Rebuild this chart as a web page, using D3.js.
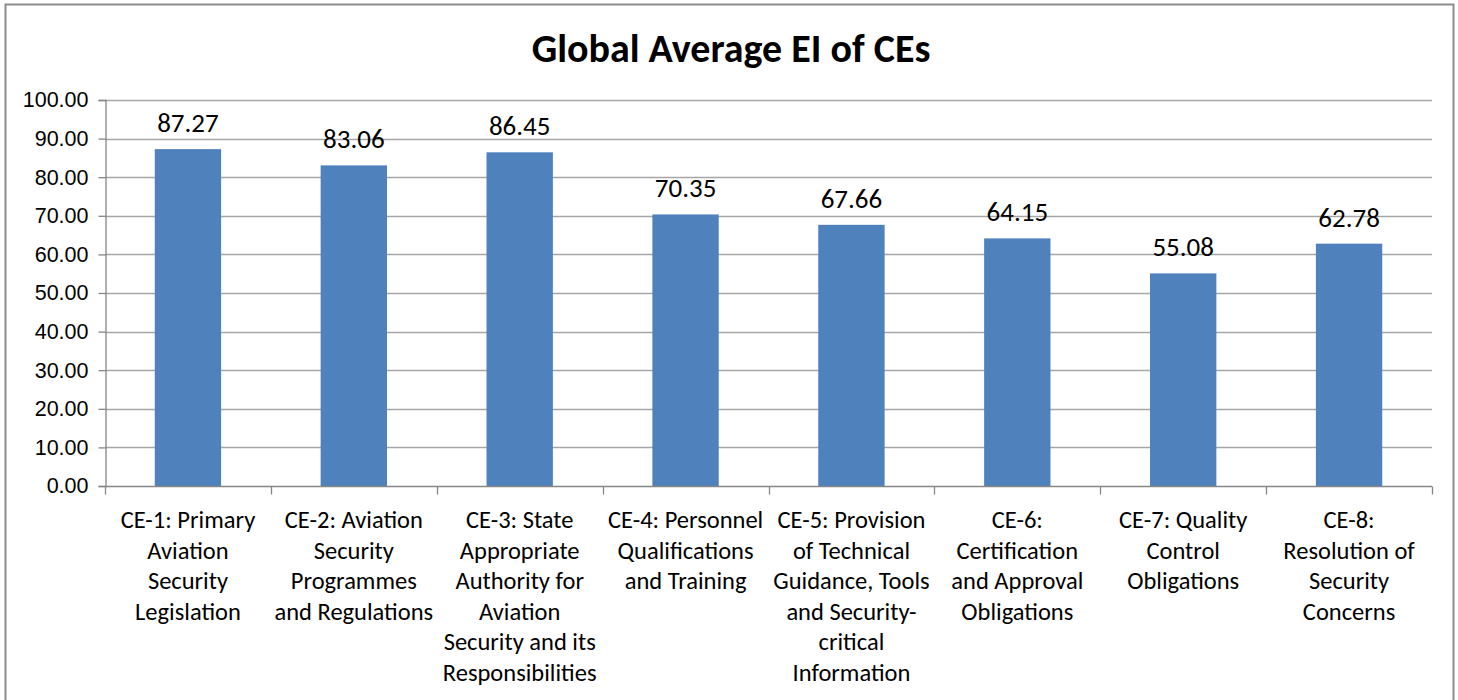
<!DOCTYPE html>
<html>
<head>
<meta charset="utf-8">
<script src="https://cdn.jsdelivr.net/npm/d3@7"></script>
<style>
  body { margin: 0; background: #fff; }
  svg { display: block; font-family: Carlito, Calibri, Lato, "Open Sans", sans-serif; }
</style>
</head>
<body>
<div id="chart"></div>
<script>
// data
const categories = ["CE-1", "CE-2", "CE-3", "CE-4", "CE-5", "CE-6", "CE-7", "CE-8"];
const labelLines = [
  ["CE-1: Primary", "Aviation", "Security", "Legislation"],
  ["CE-2: Aviation", "Security", "Programmes", "and Regulations"],
  ["CE-3: State", "Appropriate", "Authority for", "Aviation", "Security and its", "Responsibilities"],
  ["CE-4: Personnel", "Qualifications", "and Training"],
  ["CE-5: Provision", "of Technical", "Guidance, Tools", "and Security-", "critical", "Information"],
  ["CE-6:", "Certification", "and Approval", "Obligations"],
  ["CE-7: Quality", "Control", "Obligations"],
  ["CE-8:", "Resolution of", "Security", "Concerns"]
];
const values = [87.27, 83.06, 86.45, 70.35, 67.66, 64.15, 55.08, 62.78];
const yTicks = [0, 10, 20, 30, 40, 50, 60, 70, 80, 90, 100];

const width = 1458, height = 700;
const margin = {top: 100, right: 26, bottom: 214, left: 105};

const svg = d3.select("#chart").append("svg")
  .attr("width", width)
  .attr("height", height);

// outer frame
svg.append("rect")
  .attr("x", 5.5).attr("y", 4.5)
  .attr("width", 1448).attr("height", 710)
  .attr("fill", "none")
  .attr("stroke", "#8c8c8c")
  .attr("stroke-width", 2);

svg.append("text")
  .attr("x", 731).attr("y", 62)
  .attr("text-anchor", "middle")
  .style("font-size", "40px")
  .style("font-weight", "bold")
  .text("Global Average EI of CEs");

const x = d3.scaleBand()
  .domain(categories)
  .range([margin.left, width - margin.right])
  .paddingInner(0.6).paddingOuter(0.3);

const y = d3.scaleLinear()
  .domain([0, 100])
  .range([height - margin.bottom, margin.top]);

// gridlines
svg.append("g")
  .selectAll("line")
  .data(yTicks.slice(1))
  .join("line")
  .attr("x1", margin.left).attr("x2", width - margin.right)
  .attr("y1", d => Math.round(y(d)) + 0.5)
  .attr("y2", d => Math.round(y(d)) + 0.5)
  .attr("stroke", "#a6a6a6")
  .attr("stroke-width", 1.3);

// y axis
const yAxis = svg.append("g")
  .attr("transform", `translate(${margin.left + 0.5},0)`)
  .call(d3.axisLeft(y).tickValues(yTicks).tickFormat(d3.format(".2f")).tickSize(7).tickPadding(10));
yAxis.select(".domain").attr("stroke", "#868686").attr("stroke-width", 1.3);
yAxis.selectAll(".tick line").attr("stroke", "#868686").attr("stroke-width", 1.3);
yAxis.selectAll(".tick text")
  .style("font-size", "21.5px")
  .attr("fill", "#000")
  .attr("font-family", null);

// bars
svg.append("g")
  .selectAll("rect")
  .data(values)
  .join("rect")
  .attr("x", (d, i) => x(categories[i]))
  .attr("width", x.bandwidth())
  .attr("y", d => y(d))
  .attr("height", d => y(0) - y(d))
  .attr("fill", "#4f81bd");

// value labels
svg.append("g")
  .selectAll("text")
  .data(values)
  .join("text")
  .attr("x", (d, i) => x(categories[i]) + x.bandwidth() / 2)
  .attr("y", d => y(d) - 17)
  .attr("text-anchor", "middle")
  .style("font-size", "27px")
  .text(d => d.toFixed(2));

// x axis line and category separators
const x0 = height - margin.bottom + 0.5;
svg.append("line")
  .attr("x1", margin.left).attr("x2", width - margin.right)
  .attr("y1", x0).attr("y2", x0)
  .attr("stroke", "#868686").attr("stroke-width", 1.3);

const bounds = d3.range(categories.length + 1).map(i => margin.left + i * (width - margin.left - margin.right) / categories.length);
svg.append("g")
  .selectAll("line")
  .data(bounds)
  .join("line")
  .attr("x1", d => Math.round(d) + 0.5).attr("x2", d => Math.round(d) + 0.5)
  .attr("y1", x0).attr("y2", x0 + 8)
  .attr("stroke", "#868686").attr("stroke-width", 1.3);

// category labels
const lab = svg.append("g")
  .selectAll("text")
  .data(labelLines)
  .join("text")
  .attr("text-anchor", "middle")
  .style("font-size", "24.5px")
  .attr("transform", (d, i) => `translate(${x(categories[i]) + x.bandwidth() / 2},528)`);
lab.selectAll("tspan")
  .data(d => d)
  .join("tspan")
  .attr("x", 0)
  .attr("y", (d, i) => i * 30.5)
  .text(d => d);
</script>
</body>
</html>
